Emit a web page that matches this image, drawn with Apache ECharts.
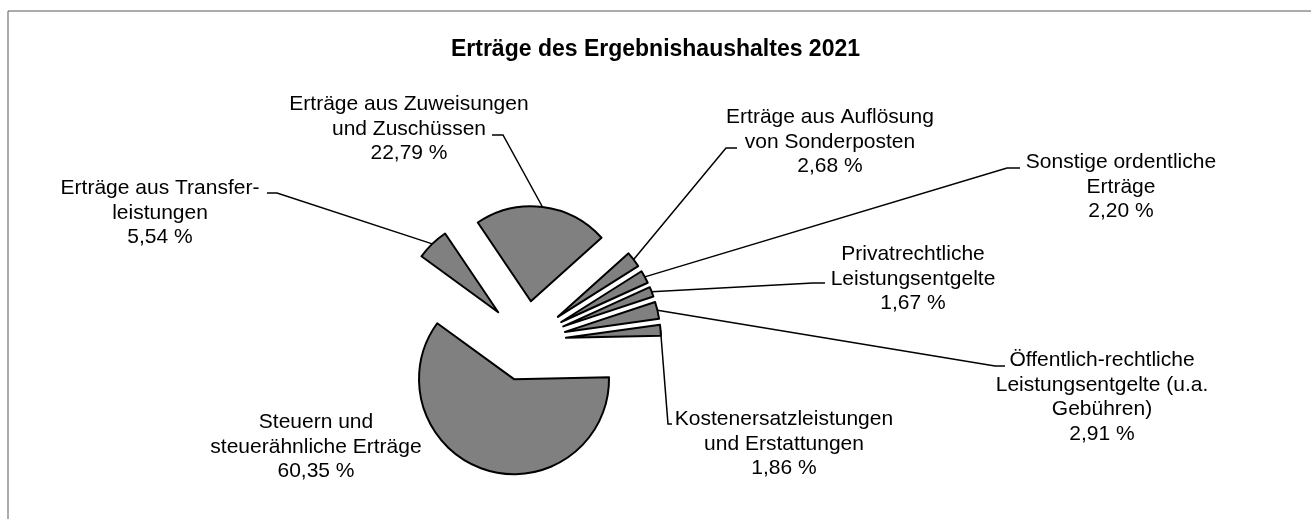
<!DOCTYPE html>
<html lang="de">

<head>
  <meta charset="UTF-8">
  <title>Erträge des Ergebnishaushaltes 2021</title>
  <style>
    html, body { margin: 0; padding: 0; background: #fff; }
    #chart { width: 1311px; height: 519px; }
  </style>
</head>

<body>
  <div id="chart"></div>

  <script src="https://cdn.jsdelivr.net/npm/echarts@6/dist/echarts.min.js"></script>
  <script>
    // Reihenfolge im Uhrzeigersinn, wie im Kreisdiagramm
    const categories = [
      'Erträge aus Zuweisungen\nund Zuschüssen',
      'Erträge aus Auflösung\nvon Sonderposten',
      'Sonstige ordentliche\nErträge',
      'Privatrechtliche\nLeistungsentgelte',
      'Öffentlich-rechtliche\nLeistungsentgelte (u.a.\nGebühren)',
      'Kostenersatzleistungen\nund Erstattungen',
      'Steuern und\nsteuerähnliche Erträge',
      'Erträge aus Transfer-\nleistungen'
    ];
    const shares = [22.79, 2.68, 2.20, 1.67, 2.91, 1.86, 60.35, 5.54];

    // Lage der Beschriftungen (Mitte des Textblocks) und Knick der Führungslinie
    const labelAt = [[409, 129], [830, 142], [1121, 187], [913, 279], [1102, 397], [784, 444], [316, 447], [160, 213]];
    const leaderBend = [[503, 135], [726, 148], [1007, 168], [813, 283], [995, 366], [668, 424], null, [277, 193]];
    const leaderEnd = [[492, 135], [737, 148], [1020, 168], [825, 283], [1005, 366], [672, 424], null, [267, 193]];

    const FONT = '"Liberation Sans", Arial, sans-serif';
    const CENTER = [526, 341];
    const START = 124;      // Startwinkel in Grad
    const EXPLODE = 40;     // Abstand der herausgezogenen Segmente

    window.onload = () => {
      const chart = echarts.init(document.getElementById('chart'));
      const total = shares.reduce((a, b) => a + b, 0);

      // jedes Segment als eigene Serie, um den Mittelpunkt entlang der Winkelhalbierenden zu verschieben
      let cum = 0;
      const series = shares.map((v, k) => {
        const mid = (START - 360 * (cum + v / 2) / total) * Math.PI / 180;
        cum += v;
        return {
          type: 'pie',
          center: [CENTER[0] + EXPLODE * Math.cos(mid), CENTER[1] - EXPLODE * Math.sin(mid)],
          radius: 95,
          startAngle: START,
          clockwise: true,
          avoidLabelOverlap: false,
          silent: true,
          itemStyle: { color: '#808080', borderColor: '#000', borderWidth: 2 },
          emphasis: { disabled: true },
          label: {
            show: true,
            position: 'outside',
            fontFamily: FONT,
            fontSize: 21,
            lineHeight: 24.5,
            color: '#000',
            align: 'center',
            formatter: (p) => p.name + '\n' + p.value.toFixed(2).replace('.', ',') + ' %'
          },
          labelLine: {
            show: true,
            length: 10,
            length2: 10,
            lineStyle: { color: '#000', width: 1.5 }
          },
          labelLayout: (params) => {
            const i = params.dataIndex;
            const res = {
              x: labelAt[i][0],
              y: labelAt[i][1],
              align: 'center',
              verticalAlign: 'middle'
            };
            if (leaderBend[i] && params.labelLinePoints) {
              res.labelLinePoints = [params.labelLinePoints[0], leaderBend[i], leaderEnd[i]];
            }
            return res;
          },
          data: categories.map((name, i) => i === k ? {
            name: name,
            value: shares[i],
            labelLine: { show: leaderBend[i] != null }
          } : {
            name: name,
            value: shares[i],
            itemStyle: { opacity: 0 },
            label: { show: false },
            labelLine: { show: false }
          })
        };
      });

      const option = {
        animation: false,
        title: {
          text: 'Erträge des Ergebnishaushaltes 2021',
          left: 'center',
          top: 33,
          textStyle: { fontFamily: FONT, fontSize: 23, fontWeight: 'bold', color: '#000' }
        },
        graphic: [{
          type: 'rect',
          silent: true,
          shape: { x: 8, y: 11, width: 1340, height: 560 },
          style: { fill: 'none', stroke: '#595959', lineWidth: 1 }
        }],
        series: series
      };

      chart.setOption(option);
    };
  </script>
</body>

</html>
